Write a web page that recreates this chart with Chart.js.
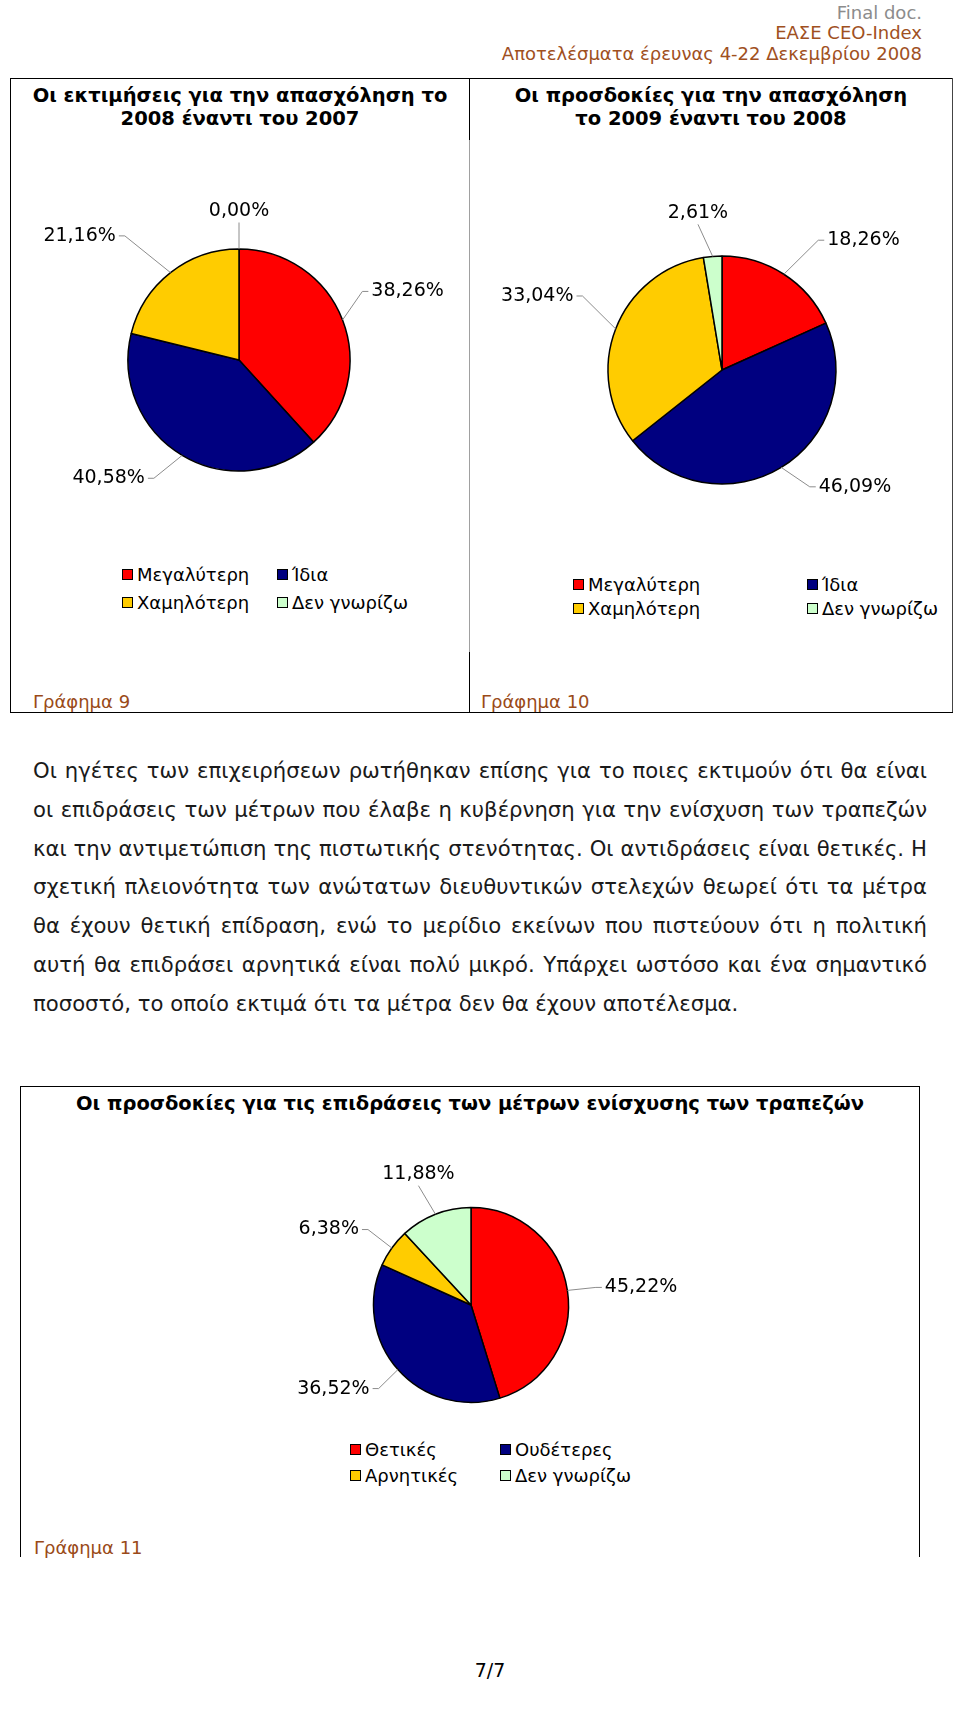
<!DOCTYPE html>
<html lang="el">
<head>
<meta charset="utf-8">
<script src="https://cdn.jsdelivr.net/npm/chart.js@4.4.0/dist/chart.umd.min.js"></script>
<style>
  body { margin: 0; width: 960px; height: 1715px; position: relative; background: #fff;
         font-family: "DejaVu Sans", Verdana, sans-serif; overflow: hidden; color: #000; }
  .abs { position: absolute; white-space: nowrap; }
  .hdr { right: 38px; font-size: 18px; line-height: 22px; text-align: right; }
  .brown { color: #a0501e; }
  .cellTitle { font-weight: bold; font-size: 19.5px; line-height: 23px; text-align: center; }
  .line { position: absolute; background: #000; }
  .body-line { position: absolute; left: 33px; width: 894px; font-size: 21.2px; line-height: 24px;
               color: #1a1a1a; text-align: justify; text-align-last: justify; white-space: nowrap; }
  .legend-item { position: absolute; font-size: 18px; line-height: 22px; white-space: nowrap; }
  .legend-item i { position: absolute; left: 0; top: 5px; width: 9px; height: 9px; border: 1px solid #000; }
  .legend-item span { position: absolute; left: 15px; top: 0; }
  .caption { font-size: 18px; line-height: 22px; color: #9a4a18; }
  canvas { position: absolute; }
</style>
</head>
<body>

<div class="abs hdr" style="top:2px; color:#8c8c8c;">Final doc.</div>
<div class="abs hdr brown" style="top:22px;">ΕΑΣΕ CEO-Index</div>
<div class="abs hdr brown" style="top:43px;">Αποτελέσματα έρευνας 4-22 Δεκεμβρίου 2008</div>

<!-- table frame -->
<div class="line" style="left:10px; top:78px; width:943px; height:1px;"></div>
<div class="line" style="left:10px; top:78px; width:1px; height:635px;"></div>
<div class="line" style="left:952px; top:78px; width:1px; height:635px; background:#444;"></div>
<div class="line" style="left:10px; top:712px; width:943px; height:1px;"></div>
<div class="line" style="left:469px; top:78px; width:1px; height:62px;"></div>
<div class="line" style="left:469px; top:140px; width:1px; height:512px; background:#a0a0a0;"></div>
<div class="line" style="left:469px; top:652px; width:1px; height:60px;"></div>

<div class="abs cellTitle" style="left:11px; width:458px; top:84px;">Οι εκτιμήσεις για την απασχόληση το<br>2008 έναντι του 2007</div>
<div class="abs cellTitle" style="left:470px; width:482px; top:84px;">Οι προσδοκίες για την απασχόληση<br>το 2009 έναντι του 2008</div>

<div class="abs caption" style="left:33px; top:691px;">Γράφημα 9</div>
<div class="abs caption" style="left:481px; top:691px;">Γράφημα 10</div>

<div id="bodyText"></div>

<!-- frame of graph 11 -->
<div class="line" style="left:20px; top:1086px; width:900px; height:1px;"></div>
<div class="line" style="left:20px; top:1086px; width:1px; height:471px;"></div>
<div class="line" style="left:919px; top:1086px; width:1px; height:471px;"></div>
<div class="abs cellTitle" style="left:21px; width:898px; top:1092px;">Οι προσδοκίες για τις επιδράσεις των μέτρων ενίσχυσης των τραπεζών</div>
<div class="abs caption" style="left:34px; top:1537px;">Γράφημα 11</div>

<div class="abs" style="left:0; width:980px; top:1659px; text-align:center; font-size:19px; line-height:22px;">7/7</div>

<div id="legends"></div>

<script>
// ---- data ----
const labelsEmployment = ['Μεγαλύτερη', 'Ίδια', 'Χαμηλότερη', 'Δεν γνωρίζω'];
const values2008 = [38.26, 40.58, 21.16, 0.00];   // Γράφημα 9
const values2009 = [18.26, 46.09, 33.04, 2.61];   // Γράφημα 10
const labelsMeasures = ['Θετικές', 'Ουδέτερες', 'Αρνητικές', 'Δεν γνωρίζω'];
const valuesMeasures = [45.22, 36.52, 6.38, 11.88]; // Γράφημα 11
const sliceColors = ['#FF0000', '#000080', '#FFCC00', '#CCFFCC'];

const paragraphLines = [
  'Οι ηγέτες των επιχειρήσεων ρωτήθηκαν επίσης για το ποιες εκτιμούν ότι θα είναι',
  'οι επιδράσεις των μέτρων που έλαβε η κυβέρνηση για την ενίσχυση των τραπεζών',
  'και την αντιμετώπιση της πιστωτικής στενότητας. Οι αντιδράσεις είναι θετικές. Η',
  'σχετική πλειονότητα των ανώτατων διευθυντικών στελεχών θεωρεί ότι τα μέτρα',
  'θα έχουν θετική επίδραση, ενώ το μερίδιο εκείνων που πιστεύουν ότι η πολιτική',
  'αυτή θα επιδράσει αρνητικά είναι πολύ μικρό. Υπάρχει ωστόσο και ένα σημαντικό',
  'ποσοστό, το οποίο εκτιμά ότι τα μέτρα δεν θα έχουν αποτέλεσμα.'
];

// paragraph, one justified line per row
const bodyEl = document.getElementById('bodyText');
paragraphLines.forEach((t, i) => {
  const d = document.createElement('div');
  d.className = 'body-line';
  d.style.top = (759 + i * 38.8) + 'px';
  if (i === paragraphLines.length - 1) d.style.textAlignLast = 'left';
  d.textContent = t;
  bodyEl.appendChild(d);
});

// legends (2 x 2)
function makeLegend(labels, x0, y0, dx, dy) {
  const host = document.getElementById('legends');
  labels.forEach((lab, i) => {
    const it = document.createElement('div');
    it.className = 'legend-item';
    it.style.left = (x0 + (i % 2) * dx) + 'px';
    it.style.top = (y0 + Math.floor(i / 2) * dy) + 'px';
    it.innerHTML = '<i style="background:' + sliceColors[i] + '"></i><span>' + lab + '</span>';
    host.appendChild(it);
  });
}
makeLegend(labelsEmployment, 122, 564, 155, 28);
makeLegend(labelsEmployment, 573, 574, 234, 24);
makeLegend(labelsMeasures, 350, 1439, 150, 26);

// percentage labels with leader lines, placed around each slice's mid angle
const leaderLabels = {
  id: 'leaderLabels',
  afterDatasetsDraw(chart, args, opts) {
    const ctx = chart.ctx;
    const meta = chart.getDatasetMeta(0);
    const data = chart.data.datasets[0].data;
    ctx.save();
    ctx.font = opts.size + 'px "DejaVu Sans", Verdana, sans-serif';
    ctx.textBaseline = 'middle';
    ctx.textAlign = 'center';
    meta.data.forEach((arc, i) => {
      const mid = (arc.startAngle + arc.endAngle) / 2;
      const a = mid + opts.place[i][0] * Math.PI / 180;
      const cx = arc.x + Math.cos(a) * opts.place[i][1];
      const cy = arc.y + Math.sin(a) * opts.place[i][1];
      const text = data[i].toFixed(2).replace('.', ',') + '%';
      const w = ctx.measureText(text).width;
      const left = cx - w / 2, right = cx + w / 2;
      const top = cy - opts.size / 2, bottom = cy + opts.size / 2;
      const px = arc.x + Math.cos(mid) * arc.outerRadius;
      const py = arc.y + Math.sin(mid) * arc.outerRadius;
      ctx.strokeStyle = '#8c8c8c';
      ctx.lineWidth = 1;
      ctx.beginPath();
      ctx.moveTo(px, py);
      if (px >= left && px <= right) {
        ctx.lineTo(cx, py > cy ? bottom + 2 : top - 2);
      } else if (px > right) {
        ctx.lineTo(right + 9, cy);
        ctx.lineTo(right + 3, cy);
      } else {
        ctx.lineTo(left - 9, cy);
        ctx.lineTo(left - 3, cy);
      }
      ctx.stroke();
      ctx.fillStyle = '#000';
      ctx.fillText(text, cx, cy);
    });
    ctx.restore();
  }
};

// pie canvas centred on (cx, cy)
function makePie(cx, cy, w, h, radius, labels, values, place) {
  const cv = document.createElement('canvas');
  cv.width = w; cv.height = h;
  cv.style.left = (cx - w / 2) + 'px';
  cv.style.top = (cy - h / 2) + 'px';
  document.body.appendChild(cv);
  return new Chart(cv.getContext('2d'), {
    type: 'pie',
    data: {
      labels: labels,
      datasets: [{
        data: values,
        backgroundColor: sliceColors,
        borderColor: '#000',
        borderWidth: 1.5
      }]
    },
    options: {
      responsive: false,
      animation: false,
      radius: radius,
      layout: { padding: 0 },
      plugins: {
        legend: { display: false },
        tooltip: { enabled: false },
        leaderLabels: { size: 19, place: place }
      }
    },
    plugins: [leaderLabels]
  });
}

// label placement: [angle shift from slice middle (deg), distance from centre (px)]
makePie(239, 360, 440, 330, 111, labelsEmployment, values2008,
  [[-1, 182], [17, 176], [-14, 202], [0, 149]]);
makePie(722, 370, 460, 340, 114, labelsEmployment, values2009,
  [[14.6, 192], [-17.4, 177], [0.7, 199], [-4, 159]]);
makePie(470.5, 1304.5, 440, 300, 97.5, labelsMeasures, valuesMeasures,
  [[2.7, 171], [10.2, 161], [-7.8, 161], [-0.5, 141]]);
</script>
</body>
</html>
